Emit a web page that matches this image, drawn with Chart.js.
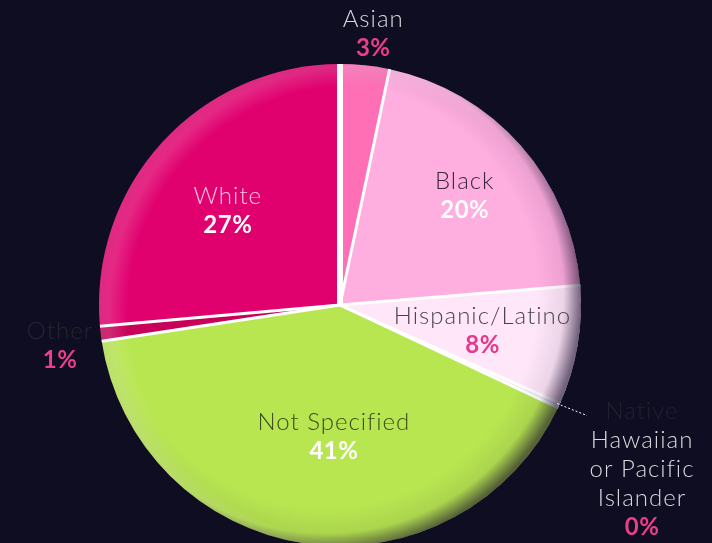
<!DOCTYPE html>
<html><head><meta charset="utf-8">
<script src="https://cdn.jsdelivr.net/npm/chart.js@4.4.1/dist/chart.umd.min.js"></script>
<style>
html,body{margin:0;padding:0;background:#0e0d22;overflow:hidden;width:712px;height:543px}
canvas{display:block}
</style></head><body>
<canvas id="c" width="712" height="560"></canvas>
<script>
const categories = ["Asian","Black","Hispanic/Latino","Native Hawaiian or Pacific Islander","Not Specified","Other","White"];
const values = [3.3, 20.4, 8.0, 0.3, 40.6, 1.0, 26.4];
const percentLabels = ["3%","20%","8%","0%","41%","1%","27%"];
const nameLines = [["Asian"],["Black"],["Hispanic/Latino"],["Native","Hawaiian","or Pacific","Islander"],["Not Specified"],["Other"],["White"]];

const colors = ["#ff6fb6","#ffaee0","#ffe6f9","#e8e4ea","#b8e651","#c8005a","#e0006e"];
const nameColors = [["#d8d8dc"],["#3b2a3a"],["#4a4450"],["#22212e","#d8d8dc","#d8d8dc","#d8d8dc"],["#3c4a1c"],["#26252f"],["#ffc2e2"]];
const pctColors = ["#ec3d8e","#ffffff","#e8388a","#ec3d8e","#ffffff","#ec3d8e","#ffffff"];
// label placement: radius factor relative to outer radius, extra dx, dy
const labelPlace = [[1.13,5,0],[0.69,0,1],[0.6,0,1],[1.3,0,0],[0.55,13,1],[1.17,0,7],[0.62,-2,7]];

const labelPlugin = {
  id:'labels',
  afterDatasetsDraw(chart){
    const ctx = chart.ctx;
    const meta = chart.getDatasetMeta(0);
    const a0 = meta.data[0];
    const cx = a0.x, cy = a0.y, R = a0.outerRadius;
    // separators
    ctx.save();
    ctx.strokeStyle = '#ffffff'; ctx.lineCap='butt';
    meta.data.forEach((arc,i)=>{
      ctx.lineWidth = i===0 ? 6 : 3;
      ctx.beginPath(); ctx.moveTo(cx,cy);
      ctx.lineTo(cx+Math.cos(arc.startAngle)*R, cy+Math.sin(arc.startAngle)*R);
      ctx.stroke();
    });
    ctx.restore();
    // rim shading
    ctx.save();
    ctx.beginPath(); ctx.arc(cx, cy, R, 0, Math.PI*2); ctx.clip();
    let g = ctx.createRadialGradient(cx-R*0.06, cy-R*0.04, R*0.88, cx-R*0.06, cy-R*0.04, R*1.06);
    g.addColorStop(0,'rgba(20,10,40,0)');
    g.addColorStop(0.6,'rgba(20,10,40,0.08)');
    g.addColorStop(1,'rgba(20,10,40,0.6)');
    ctx.fillStyle = g; ctx.fillRect(cx-R-5, cy-R-5, 2*R+10, 2*R+10);
    let g2 = ctx.createRadialGradient(cx+R*0.06, cy+R*0.03, R*0.94, cx+R*0.06, cy+R*0.03, R*1.02);
    g2.addColorStop(0,'rgba(255,255,255,0)');
    g2.addColorStop(1,'rgba(255,255,255,0.16)');
    ctx.fillStyle = g2; ctx.fillRect(cx-R-5, cy-R-5, 2*R+10, 2*R+10);
    ctx.restore();

    ctx.save();
    ctx.textAlign='center'; ctx.textBaseline='middle';
    meta.data.forEach((arc,i)=>{
      const mid = (arc.startAngle+arc.endAngle)/2;
      const [f,dx,dy] = labelPlace[i];
      let x, y;
      const lines = nameLines[i];
      const lh = 29;
      const total = lines.length + 1;
      if (i===3){
        const ex = cx + Math.cos(mid)*R, ey = cy + Math.sin(mid)*R;
        ctx.save();
        ctx.strokeStyle='#ffffff'; ctx.lineWidth=1; ctx.setLineDash([2,2]);
        ctx.beginPath(); ctx.moveTo(ex-2,ey-2); ctx.lineTo(ex+28, ey+10); ctx.stroke();
        ctx.restore();
        x = ex + 83; y = ey + 6 + (total-1)*lh/2;
      } else {
        x = cx + Math.cos(mid)*R*f + dx;
        y = cy + Math.sin(mid)*R*f + dy;
      }
      let y0 = y - (total-1)*lh/2;
      lines.forEach((t,k)=>{
        ctx.font = '300 24px Lato, "Open Sans", sans-serif';
        ctx.letterSpacing = '1px';
        ctx.fillStyle = nameColors[i][k];
        ctx.fillText(t, x, y0 + k*lh);
      });
      ctx.font = 'bold 24px Lato, "Open Sans", sans-serif';
      ctx.letterSpacing = '0.5px';
      ctx.fillStyle = pctColors[i];
      ctx.fillText(percentLabels[i], x, y0 + lines.length*lh);
    });
    ctx.restore();
  }
};

new Chart(document.getElementById('c'), {
  type:'pie',
  data:{labels:categories, datasets:[{data:values, backgroundColor:colors, borderWidth:0, hoverOffset:0}]},
  options:{
    responsive:false, animation:false,
    layout:{padding:{left:0,right:32,top:64,bottom:14}},
    plugins:{legend:{display:false}, tooltip:{enabled:false}}
  },
  plugins:[labelPlugin]
});
</script>
</body></html>
